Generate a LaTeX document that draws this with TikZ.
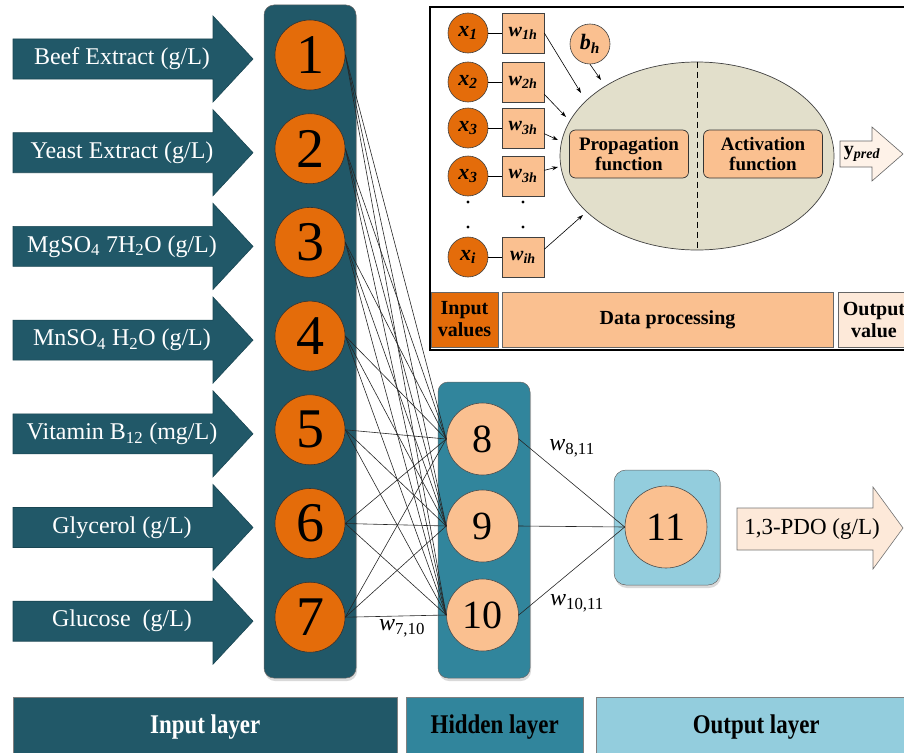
\documentclass[tikz,border=0pt]{standalone}
\usepackage{fontspec}
\setmainfont{Liberation Serif}
\newfontfamily\condfont{Liberation Serif}[FakeStretch=0.85]
\usetikzlibrary{arrows.meta,shapes.geometric,shadows}
\definecolor{inteal}{HTML}{215868}
\definecolor{hidteal}{HTML}{31859C}
\definecolor{outblue}{HTML}{93CDDD}
\definecolor{orng}{HTML}{E46C0A}
\definecolor{peach}{HTML}{FAC090}
\definecolor{pale}{HTML}{FDE9D9}
\definecolor{khaki}{HTML}{E2DFCB}

\begin{document}
\begin{tikzpicture}[x=1pt, y=-1pt,
  inarrow/.style={fill=inteal, draw=inteal!80!black, line width=0.6pt},
  inlabel/.style={text=white, font=\fontsize{24}{28}\selectfont},
  incirc/.style={circle, fill=orng, draw=black!80, line width=0.6pt, minimum size=70pt, inner sep=0pt, font=\fontsize{56}{56}\selectfont},
  hidcirc/.style={circle, fill=peach, draw=black!70, line width=0.6pt, minimum size=72pt, inner sep=0pt, font=\fontsize{40}{40}\selectfont},
  column/.style={rounded corners=10pt, draw=black!60, line width=0.5pt, drop shadow={opacity=0.3, shadow xshift=1pt, shadow yshift=-3pt}},
  link/.style={line width=0.6pt, black!85},
  wlabel/.style={font=\fontsize{24}{24}\selectfont},
  layer/.style={anchor=north west, minimum height=60pt, inner sep=0pt, draw=black!50, line width=0.5pt, font=\fontsize{27}{27}\condfont\bfseries},
  xcirc/.style={circle, fill=orng, draw=black!75, line width=0.6pt, minimum size=40pt, inner sep=0pt, font=\fontsize{22}{22}\selectfont\bfseries\itshape},
  wbox/.style={rectangle, fill=peach, draw=black!75, line width=0.6pt, minimum width=42pt, minimum height=40pt, inner sep=0pt, font=\fontsize{20}{20}\selectfont\bfseries\itshape},
  funcbox/.style={rectangle, rounded corners=6pt, fill=peach, draw=black!80, line width=0.7pt, minimum width=119pt, minimum height=48pt, inner sep=0pt, align=center, font=\fontsize{19}{20}\selectfont\bfseries},
  rowbox/.style={rectangle, draw=black!60, line width=0.6pt, minimum height=55pt, inner sep=0pt, align=center, font=\fontsize{20}{22}\selectfont\bfseries},
  feed/.style={line width=0.6pt, -{Stealth[length=6pt, width=4pt]}},
]
\useasboundingbox (0,0) rectangle (904,752);
\clip (0,0) rectangle (904,752);

% layer columns
\draw[column, fill=inteal] (264,5) rectangle (356,678);
\draw[column, fill=hidteal] (438,382) rectangle (530,678);
\draw[column, fill=outblue, rounded corners=12pt] (614,470) rectangle (720,585);

% inputs
\foreach \lab [count=\i] in {{Beef Extract (g/L)}, {Yeast Extract (g/L)},
    {MgSO\textsubscript{4} 7H\textsubscript{2}O (g/L)}, {MnSO\textsubscript{4} H\textsubscript{2}O (g/L)},
    {Vitamin B\textsubscript{12} (mg/L)}, {Glycerol (g/L)}, {Glucose\ \ (g/L)}} {
  \pgfmathsetmacro\c{55+93.7*(\i-1)}
  \draw[inarrow] (13,\c-16) -- (213,\c-16) -- (213,\c-39) -- (253,\c+4) -- (213,\c+47)
    -- (213,\c+24) -- (13,\c+24) -- cycle;
  \node[inlabel] (lab\i) at (122,\c+4) {\lab};
  \node[incirc] (n\i) at (310,\c) {\i};
}

% hidden and output neurons
\foreach \j/\c in {8/439, 9/526, 10/615}
  \node[hidcirc] (n\j) at (482.5,\c) {\j};
\node[hidcirc, minimum size=82pt] (n11) at (666,527) {11};

\foreach \i in {1,...,7}
  \foreach \j in {8,9,10}
    \draw[link] (n\i.east) -- (n\j.west);
\foreach \j in {8,9,10}
  \draw[link] (n\j.east) -- (n11.west);

\node[wlabel] (w811) at (572,448) {\textit{w}\textsubscript{8,11}};
\node[wlabel] (w1011) at (577,603) {\textit{w}\textsubscript{10,11}};
\node[wlabel] (w710) at (402,628) {\textit{w}\textsubscript{7,10}};

\draw[fill=pale, draw=black!55, line width=0.6pt] (737,508) -- (873,508) -- (873,487) -- (903,528)
  -- (873,569) -- (873,550) -- (737,550) -- cycle;
\node[font=\fontsize{23}{23}\selectfont] (pdo) at (812,529) {1,3-PDO (g/L)};

% layer names
\node[layer, fill=inteal, text=white, minimum width=384pt] (inlayer) at (13,697) {Input layer};
\node[layer, fill=hidteal, minimum width=177pt] (hidlayer) at (406,697) {Hidden layer};
\node[layer, fill=outblue, minimum width=320pt] (outlayer) at (596,697) {Output layer};

% single neuron inset
\draw[line width=1.2pt] (430,7) rectangle (912,350);
\foreach \k/\c/\s in {1/33/1, 2/82/2, 3/128/3, 4/176/3, 5/257/i} {
  \node[xcirc] (x\k) at (468,\c) {x\textsubscript{\s}};
  \node[wbox] (w\k) at (523,\c) {w\textsubscript{\s h}};
  \draw[line width=0.8pt] (x\k) -- (w\k);
}
\foreach \c in {202,227} {
  \fill (468,\c) circle (1.6pt);
  \fill (523,\c) circle (1.6pt);
}
\node[ellipse, fill=khaki, draw=black!75, line width=0.7pt, minimum width=274pt, minimum height=188pt, inner sep=0pt] (neuron) at (697,156) {};
\draw[dashed, line width=0.8pt, dash pattern=on 6pt off 4pt] (neuron.north) -- (neuron.south);
\node[funcbox] (prop) at (629,154) {Propagation\\function};
\node[funcbox] (act) at (763,154) {Activation\\function};
\node[xcirc, fill=peach] (bh) at (590,44) {b\textsubscript{h}};

\coordinate (t1) at (581,93);
\coordinate (t2) at (566,117);
\coordinate (t3) at (558,140);
\coordinate (t4) at (558,167);
\coordinate (t5) at (583,215);
\coordinate (tb) at (601,80);
\draw[feed] (w1.east) -- (t1);
\draw[feed] (w2.-30) -- (t2);
\draw[feed] (w3.-15) -- (t3);
\draw[feed] (w4.15) -- (t4);
\draw[feed] (w5.20) -- (t5);
\draw[feed] (bh.south) -- (tb);

\draw[fill=pale!60, draw=black!60, line width=0.6pt] (840,141) -- (872,141) -- (872,127) -- (903,154)
  -- (872,181) -- (872,167) -- (840,167) -- cycle;
\node[font=\fontsize{20}{20}\selectfont] (ypred) at (862,154) {\textbf{y}\textsubscript{\textbf{\textit{pred}}}};

\node[rowbox, fill=orng, minimum width=67pt] (invals) at (464.5,319.5) {Input\\values};
\node[rowbox, fill=peach, minimum width=331pt] (dataproc) at (667.5,319.5) {Data processing};
\node[rowbox, fill=pale, minimum width=72pt] (outval) at (874,319.5) {Output\\value};
\end{tikzpicture}
\end{document}
